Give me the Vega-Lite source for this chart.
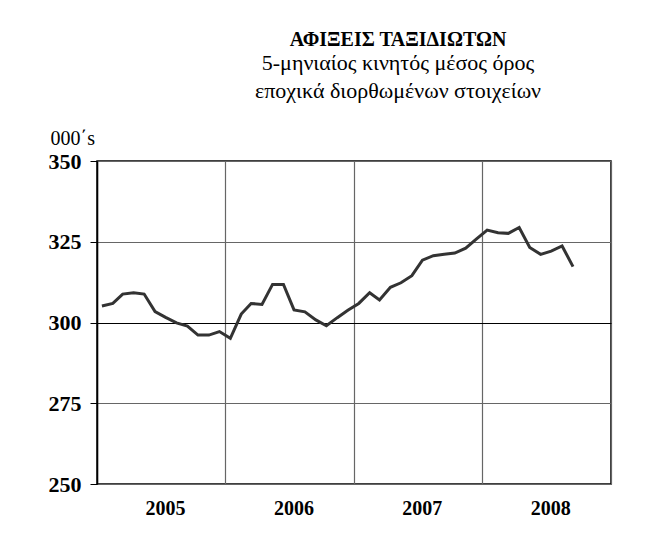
{
  "$schema": "https://vega.github.io/schema/vega-lite/v6.json",
  "autosize": "none",
  "width": 514,
  "height": 323,
  "padding": {"left": 97, "top": 161, "right": 50, "bottom": 72},
  "background": "white",
  "config": {
    "view": {"stroke": "black", "strokeWidth": 1.5},
    "font": "Liberation Serif"
  },
  "title": {
    "text": "ΑΦΙΞΕΙΣ ΤΑΞΙΔΙΩΤΩΝ",
    "subtitle": ["5-μηνιαίος κινητός μέσος όρος", "εποχικά διορθωμένων στοιχείων"],
    "anchor": "middle",
    "frame": "group",
    "dx": 44,
    "offset": 26,
    "font": "Liberation Serif",
    "fontSize": 20,
    "fontWeight": "bold",
    "color": "black",
    "subtitleFont": "Liberation Serif",
    "subtitleFontSize": 22,
    "subtitleColor": "black",
    "subtitleLineHeight": 28,
    "subtitlePadding": 3
  },
  "data": {
    "values": [
      {"month": "2005-01-15", "arrivals": 305.1},
      {"month": "2005-02-15", "arrivals": 305.9},
      {"month": "2005-03-15", "arrivals": 308.8},
      {"month": "2005-04-15", "arrivals": 309.2},
      {"month": "2005-05-15", "arrivals": 308.8},
      {"month": "2005-06-15", "arrivals": 303.4},
      {"month": "2005-07-15", "arrivals": 301.6},
      {"month": "2005-08-15", "arrivals": 299.9},
      {"month": "2005-09-15", "arrivals": 298.9},
      {"month": "2005-10-15", "arrivals": 296.1},
      {"month": "2005-11-15", "arrivals": 296.1},
      {"month": "2005-12-15", "arrivals": 297.2},
      {"month": "2006-01-15", "arrivals": 295.1},
      {"month": "2006-02-15", "arrivals": 302.6},
      {"month": "2006-03-15", "arrivals": 305.9},
      {"month": "2006-04-15", "arrivals": 305.6},
      {"month": "2006-05-15", "arrivals": 311.8},
      {"month": "2006-06-15", "arrivals": 311.8},
      {"month": "2006-07-15", "arrivals": 303.9},
      {"month": "2006-08-15", "arrivals": 303.3},
      {"month": "2006-09-15", "arrivals": 300.8},
      {"month": "2006-10-15", "arrivals": 299.0},
      {"month": "2006-11-15", "arrivals": 301.5},
      {"month": "2006-12-15", "arrivals": 303.8},
      {"month": "2007-01-15", "arrivals": 305.9},
      {"month": "2007-02-15", "arrivals": 309.2},
      {"month": "2007-03-15", "arrivals": 307.0},
      {"month": "2007-04-15", "arrivals": 310.9},
      {"month": "2007-05-15", "arrivals": 312.3},
      {"month": "2007-06-15", "arrivals": 314.5},
      {"month": "2007-07-15", "arrivals": 319.3},
      {"month": "2007-08-15", "arrivals": 320.7},
      {"month": "2007-09-15", "arrivals": 321.1},
      {"month": "2007-10-15", "arrivals": 321.5},
      {"month": "2007-11-15", "arrivals": 323.0},
      {"month": "2007-12-15", "arrivals": 325.8},
      {"month": "2008-01-15", "arrivals": 328.6},
      {"month": "2008-02-15", "arrivals": 327.8},
      {"month": "2008-03-15", "arrivals": 327.6},
      {"month": "2008-04-15", "arrivals": 329.4},
      {"month": "2008-05-15", "arrivals": 323.2},
      {"month": "2008-06-15", "arrivals": 321.1},
      {"month": "2008-07-15", "arrivals": 322.1},
      {"month": "2008-08-15", "arrivals": 323.7},
      {"month": "2008-09-15", "arrivals": 317.3}
    ]
  },
  "mark": {"type": "line", "color": "#333333", "strokeWidth": 3},
  "encoding": {
    "x": {
      "field": "month",
      "type": "temporal",
      "scale": {"type": "utc", "domain": ["2005-01-01", "2009-01-01"]},
      "axis": {
        "title": null,
        "tickCount": {"interval": "year", "step": 1},
        "labelExpr": "utcFormat(datum.value, '%Y') == '2009' ? '' : utcFormat(datum.value, '%Y')",
        "labelOffset": 68,
        "labelAlign": "center",
        "labelPadding": 14,
        "labelFont": "Liberation Serif",
        "labelFontSize": 20,
        "labelFontWeight": "bold",
        "labelColor": "black",
        "ticks": false,
        "domain": false,
        "grid": true,
        "gridColor": "#666666",
        "gridOpacity": 1,
        "gridWidth": 1.2
      }
    },
    "y": {
      "field": "arrivals",
      "type": "quantitative",
      "scale": {"domain": [250, 350], "zero": false, "nice": false},
      "axis": {
        "values": [250, 275, 300, 325, 350],
        "title": "000΄s",
        "titleAngle": 0,
        "titleAlign": "left",
        "titleBaseline": "middle",
        "titleX": -47,
        "titleY": -23,
        "titleFont": "Liberation Serif",
        "titleFontSize": 20,
        "titleFontWeight": "normal",
        "titleColor": "black",
        "labelFont": "Liberation Serif",
        "labelFontSize": 22,
        "labelFontWeight": "bold",
        "labelColor": "black",
        "labelPadding": 9,
        "tickSize": 7,
        "tickColor": "black",
        "domainColor": "black",
        "domainWidth": 1.5,
        "grid": true,
        "gridColor": {"condition": {"test": "datum.value == 300", "value": "black"}, "value": "#666666"},
        "gridOpacity": 1,
        "gridWidth": 1.2
      }
    }
  }
}
